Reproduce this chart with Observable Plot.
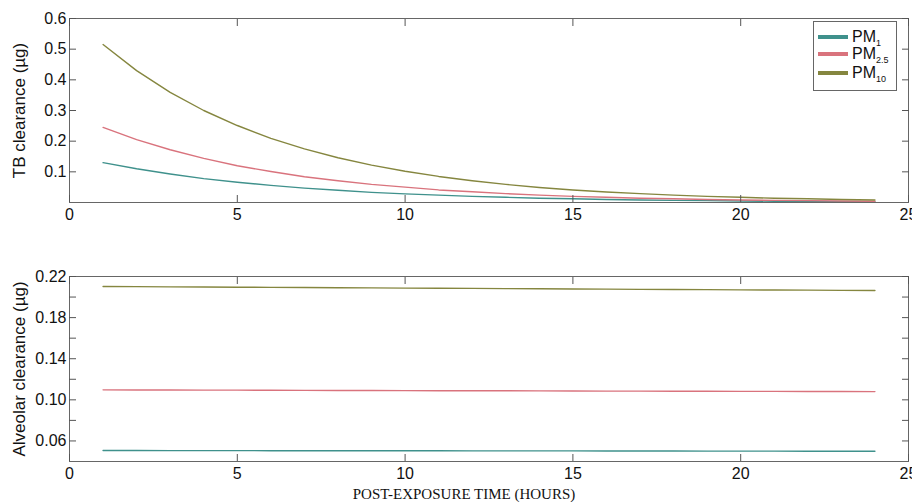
<!DOCTYPE html>
<html>
<head>
<meta charset="utf-8">
<script src="https://cdn.jsdelivr.net/npm/d3@7"></script>
<script src="https://cdn.jsdelivr.net/npm/@observablehq/plot@0.6"></script>
<style>
  body { margin: 0; background: white; }
  #wrap { position: relative; width: 912px; height: 502px; background: white; overflow: hidden; }
  #wrap svg { display: block; }
  .ylab g[aria-label="y-axis label"] text { font-size: 17px; }
  #legend { position: absolute; left: 813px; top: 21px; width: 84px; height: 70px; border: 1px solid #666;
            background: white; font-family: "Liberation Sans", Arial, sans-serif; font-size: 16px; color: #111; box-sizing: border-box; }
  .item { position: absolute; left: 4px; height: 18px; display: flex; align-items: center; }
  .sw { width: 30px; height: 4px; margin-right: 4px; }
  sub { font-size: 9px; vertical-align: -4px; line-height: 0; }
</style>
</head>
<body>
<div id="wrap"></div>
<script>
const hours = [1,2,3,4,5,6,7,8,9,10,11,12,13,14,15,16,17,18,19,20,21,22,23,24];
const series = ["PM1", "PM2.5", "PM10"];
const colors = ["#3f918c", "#d9737d", "#85863f"];
const xTicks = [0,5,10,15,20,25];
const tbTicks = [0.1,0.2,0.3,0.4,0.5,0.6];
const alvTicks = [0.06,0.08,0.10,0.12,0.14,0.16,0.18,0.20,0.22];
const alvLabeled = [0.06,0.10,0.14,0.18,0.22];
const xTitle = ["POST-EXPOSURE TIME (HOURS)"];

const tbPM1  = [0.130,0.110,0.093,0.078,0.066,0.056,0.047,0.040,0.033,0.028,0.024,0.020,0.017,0.014,0.012,0.010,0.008,0.007,0.006,0.005,0.004,0.004,0.003,0.003];
const tbPM25 = [0.245,0.205,0.172,0.144,0.120,0.101,0.084,0.071,0.059,0.050,0.041,0.035,0.029,0.024,0.020,0.017,0.014,0.012,0.010,0.008,0.007,0.006,0.005,0.004];
const tbPM10 = [0.515,0.430,0.359,0.300,0.251,0.209,0.175,0.146,0.122,0.102,0.085,0.071,0.059,0.049,0.041,0.034,0.029,0.024,0.020,0.017,0.014,0.012,0.010,0.008];

const alvPM1  = [0.0507,0.0507,0.0506,0.0506,0.0506,0.0505,0.0505,0.0505,0.0504,0.0504,0.0504,0.0503,0.0503,0.0503,0.0503,0.0502,0.0502,0.0502,0.0501,0.0501,0.0501,0.0500,0.0500,0.0500];
const alvPM25 = [0.1097,0.1096,0.1095,0.1094,0.1094,0.1093,0.1092,0.1091,0.1091,0.1090,0.1089,0.1088,0.1088,0.1087,0.1086,0.1085,0.1085,0.1084,0.1083,0.1082,0.1082,0.1081,0.1081,0.1080];
const alvPM10 = [0.2103,0.2101,0.2099,0.2098,0.2096,0.2094,0.2093,0.2091,0.2089,0.2087,0.2086,0.2084,0.2082,0.2081,0.2079,0.2077,0.2075,0.2074,0.2072,0.2070,0.2069,0.2067,0.2065,0.2064];

function tidy(arrs) {
  const out = [];
  series.forEach((s, i) => hours.forEach((h, j) => out.push({hour: h, value: arrs[i][j], series: s})));
  return out;
}
const tbData = tidy([tbPM1, tbPM25, tbPM10]);
const alvData = tidy([alvPM1, alvPM25, alvPM10]);

const baseStyle = {fontFamily: "'Liberation Sans', Arial, sans-serif", fontSize: "16px", color: "#111", background: "white", overflow: "visible"};
const colorScale = {domain: series, range: colors};

function panel({height, marginTop, marginBottom, yDomain, yTicks, yFormat, yLabel, data, title}) {
  return Plot.plot({
    width: 912, height, marginLeft: 69, marginRight: 4, marginTop, marginBottom,
    style: baseStyle,
    x: {domain: [0, 25]},
    y: {domain: yDomain},
    color: colorScale,
    marks: [
      Plot.line(data, {x: "hour", y: "value", stroke: "series", strokeWidth: 1.4}),
      Plot.frame({stroke: "#666", strokeWidth: 1}),
      Plot.axisX(xTicks, {anchor: "bottom", tickSize: 0, tickPadding: 6, label: null}),
      Plot.axisX(xTicks, {anchor: "bottom", tickSize: -7, text: null, label: null, stroke: "#555"}),
      Plot.axisX(xTicks, {anchor: "top", tickSize: -7, text: null, label: null, stroke: "#555"}),
      Plot.axisY(yTicks, {anchor: "left", tickSize: 0, tickPadding: 3, tickFormat: yFormat, label: yLabel, labelAnchor: "center", labelOffset: 57, labelArrow: false}),
      Plot.axisY(yTicks, {anchor: "left", tickSize: -7, text: null, label: null, stroke: "#555"}),
      Plot.axisY(yTicks, {anchor: "right", tickSize: -7, text: null, label: null, stroke: "#555"}),
      title ? Plot.text(title, {text: d => d, frameAnchor: "bottom", lineAnchor: "bottom", dy: 37, dx: -25,
        fontFamily: "'Liberation Serif', 'Times New Roman', serif", fontSize: 15, fill: "#111"}) : null
    ]
  });
}

const topPanel = panel({height: 240, marginTop: 18, marginBottom: 38, yDomain: [0, 0.6], yTicks: tbTicks,
  yFormat: d => d.toFixed(1), yLabel: "TB clearance (µg)", data: tbData, title: null});
topPanel.classList.add("ylab");
const bottomPanel = panel({height: 262, marginTop: 36, marginBottom: 41, yDomain: [0.04, 0.22], yTicks: alvTicks,
  yFormat: d => alvLabeled.some(v => Math.abs(v - d) < 1e-9) ? d.toFixed(2) : "", yLabel: "Alveolar clearance (µg)", data: alvData,
  title: xTitle});
bottomPanel.classList.add("ylab");

const wrap = document.getElementById("wrap");
wrap.appendChild(topPanel);
wrap.appendChild(bottomPanel);

const legend = document.createElement("div");
legend.id = "legend";
const labels = [["PM", "1"], ["PM", "2.5"], ["PM", "10"]];
const itemTops = [6, 23, 42];
labels.forEach(([a, b], i) => {
  const it = document.createElement("div");
  it.className = "item";
  it.style.top = itemTops[i] + "px";
  it.innerHTML = `<span class="sw" style="background:${colors[i]}"></span><span>${a}<sub>${b}</sub></span>`;
  legend.appendChild(it);
});
wrap.appendChild(legend);
</script>
</body>
</html>
